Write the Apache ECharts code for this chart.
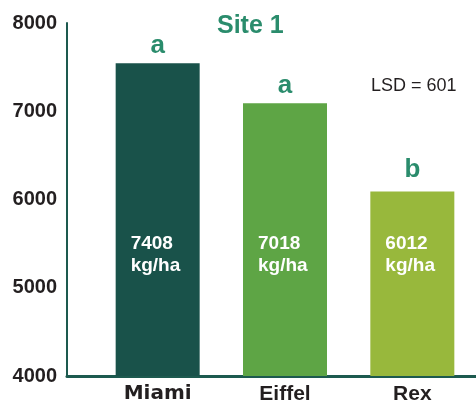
<!DOCTYPE html>
<html>
<head>
<meta charset="utf-8">
<script src="https://cdn.jsdelivr.net/npm/echarts@6/dist/echarts.min.js"></script>
<style>
html, body { margin: 0; padding: 0; background: #fff; }
</style>
</head>
<body>
<div id="ch" style="width: 476px; height: 405px;"></div>

<script>
// data
var varieties = ['Miami', 'Eiffel', 'Rex']
var barHeights = [7545, 7090, 6090]       // drawn heights of the bars
var yieldText = ['7408', '7018', '6012']  // printed yields (kg/ha)
var letters = ['a', 'a', 'b']
var barColors = ['#19524a', '#5ea545', '#98b83c']
var yTicks = [4000, 5000, 6000, 7000, 8000]

var FONT = '"Liberation Sans", Arial, Helvetica, sans-serif'
var TEAL = '#2a8c6c'
var AXIS = '#1d5a4f'

var chartInst = echarts.init(document.getElementById('ch'))

var option = {
    animation: false,
    backgroundColor: '#fff',
    title: [{
        text: 'Site 1',
        left: 212,
        top: 9,
        textStyle: { fontFamily: FONT, fontSize: 25, fontWeight: 'bold', color: TEAL }
    }, {
        text: 'LSD = 601',
        left: 366,
        top: 72,
        textStyle: { fontFamily: FONT, fontSize: 18, fontWeight: 'normal', color: '#231f20' }
    }],
    grid: [
        // axis frame
        { left: 67, right: 0, top: 23, bottom: 29 },
        // bars
        { left: 94, width: 385.5, top: 23, bottom: 29 }
    ],
    xAxis: [{
        gridIndex: 0,
        type: 'value',
        min: 0,
        max: 1,
        axisLine: { show: true, lineStyle: { color: AXIS, width: 3 } },
        axisTick: { show: false },
        axisLabel: { show: false },
        splitLine: { show: false }
    }, {
        gridIndex: 1,
        type: 'category',
        data: varieties,
        axisLine: { show: false },
        axisTick: { show: false },
        axisLabel: {
            margin: 8,
            formatter: function(v) {
                return v === 'Miami' ? '{m|' + v + '}' : '{n|' + v + '}'
            },
            rich: {
                m: { fontFamily: '"DejaVu Sans", sans-serif', fontSize: 20, fontWeight: 'bold', color: '#231f20' },
                n: { fontFamily: FONT, fontSize: 21, fontWeight: 'bold', color: '#231f20' }
            }
        }
    }],
    yAxis: [{
        gridIndex: 0,
        type: 'value',
        min: yTicks[0],
        max: yTicks[yTicks.length - 1],
        interval: 1000,
        axisLine: { show: true, lineStyle: { color: AXIS, width: 2 } },
        axisTick: { show: false },
        splitLine: { show: false },
        axisLabel: {
            margin: 10,
            formatter: function(v) { return String(v) },
            fontFamily: FONT,
            fontSize: 20,
            fontWeight: 'bold',
            color: '#231f20'
        }
    }, {
        gridIndex: 1,
        type: 'value',
        min: yTicks[0],
        max: yTicks[yTicks.length - 1],
        show: false
    }],
    series: [{
        type: 'bar',
        xAxisIndex: 1,
        yAxisIndex: 1,
        barWidth: 84,
        data: barHeights.map(function(v, i) {
            return {
                value: v,
                itemStyle: { color: barColors[i] },
                label: { offset: [0, i === 2 ? -5 : 0] }
            }
        }),
        label: {
            show: true,
            position: 'top',
            distance: 4,
            formatter: function(p) { return letters[p.dataIndex] },
            fontFamily: FONT,
            fontSize: 26,
            fontWeight: 'bold',
            color: TEAL
        }
    }, {
        type: 'bar',
        xAxisIndex: 1,
        yAxisIndex: 1,
        barWidth: 84,
        barGap: '-100%',
        silent: true,
        itemStyle: { color: 'transparent' },
        data: barHeights,
        label: {
            show: true,
            position: 'insideBottomLeft',
            offset: [10, -94],
            align: 'left',
            lineHeight: 22,
            formatter: function(p) { return yieldText[p.dataIndex] + '\nkg/ha' },
            fontFamily: FONT,
            fontSize: 19,
            fontWeight: 'bold',
            color: '#ffffff'
        }
    }]
}
chartInst.setOption(option)
</script>
</body>
</html>
